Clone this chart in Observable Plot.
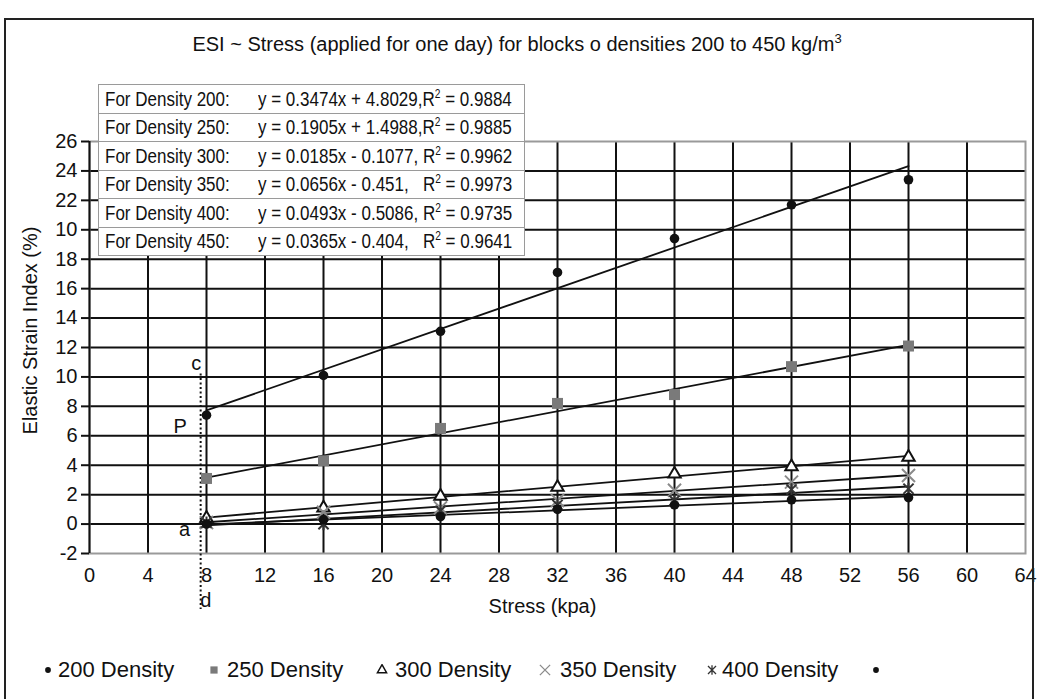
<!DOCTYPE html>
<html><head><meta charset="utf-8">
<script src="https://cdn.jsdelivr.net/npm/d3@7"></script>
<script src="https://cdn.jsdelivr.net/npm/@observablehq/plot@0.6"></script>
<style>
body{margin:0;background:#fff;font-family:"Liberation Sans",Arial,sans-serif;}
#wrap{position:relative;width:1041px;height:699px;overflow:hidden;background:#fff;}
#frame{position:absolute;left:4px;top:18px;width:1030px;height:720px;border:2px solid #222;box-sizing:border-box;pointer-events:none;}
#plot{position:absolute;left:0;top:0;}
#title{position:absolute;top:31px;left:517px;transform:translateX(-50%);font-size:20px;white-space:nowrap;color:#111;}
#title sup{font-size:13px;}
#eqbox{position:absolute;left:98px;top:84px;width:426px;table-layout:fixed;background:#fff;border-collapse:collapse;font-family:"Liberation Sans",Arial,sans-serif;font-size:20px;color:#111;}
#eqbox tr{height:28.5px;}
#eqbox td{border:1.5px solid #9a9a9a;height:27px;padding:0;white-space:pre;overflow:hidden;line-height:20px;vertical-align:middle;}
#eqbox td.l{padding-left:6px;width:153px;border-right:none;}
#eqbox td.r{padding-left:0;width:267px;border-left:none;}
#eqbox span{display:inline-block;transform:scaleX(0.85);transform-origin:0 50%;line-height:20px;}
#eqbox sup{font-size:12px;line-height:0;}
#legend{position:absolute;top:656px;left:0;font-size:22px;color:#111;}
.item{position:absolute;white-space:nowrap;height:28px;line-height:28px;}
.item svg{position:absolute;top:8px;}
</style></head>
<body><div id="wrap"><div id="plot"></div><div id="title"></div><table id="eqbox"><colgroup><col style="width:159px"><col style="width:267px"></colgroup><tbody id="eqbody"></tbody></table><div id="legend"></div><div id="frame"></div></div>
<script>
// ---- data ----
const stress = [8, 16, 24, 32, 40, 48, 56];
const esi200 = [7.4, 10.1, 13.1, 17.1, 19.4, 21.7, 23.4];
const esi250 = [3.1, 4.3, 6.5, 8.2, 8.8, 10.7, 12.1];
const esi300 = [0.4, 1.1, 1.9, 2.5, 3.4, 3.9, 4.55];
const esi350 = [0.1, 0.8, 1.1, 1.6, 2.3, 2.85, 3.3];
const esi400 = [0.1, 0.0, 0.9, 1.3, 1.6, 2.35, 2.4];
const esi450 = [0.0, 0.3, 0.5, 1.0, 1.3, 1.65, 1.8];
const seriesNames = ["200 Density", "250 Density", "300 Density", "350 Density", "400 Density", ""];
const seriesValues = [esi200, esi250, esi300, esi350, esi400, esi450];
const xTicks = [0, 4, 8, 12, 16, 20, 24, 28, 32, 36, 40, 44, 48, 52, 56, 60, 64];
const yTicks = [-2, 0, 2, 4, 6, 8, 10, 12, 14, 16, 18, 20, 22, 24, 26];
const yTickLabels = ["-2", "0", "2", "4", "6", "8", "10", "12", "14", "16", "18", "10", "22", "24", "26"];
const titleText = "ESI ~ Stress (applied for one day) for blocks o densities 200 to 450 kg/m";
const titleSup = "3";
const xTitle = "Stress (kpa)";
const yTitle = "Elastic Strain Index (%)";
const eqLabels = ["For Density 200:", "For Density 250:", "For Density 300:", "For Density 350:", "For Density 400:", "For Density 450:"];
const eqTexts = [
  "y = 0.3474x + 4.8029,R² = 0.9884",
  "y = 0.1905x + 1.4988,R² = 0.9885",
  "y = 0.0185x - 0.1077, R² = 0.9962",
  "y = 0.0656x - 0.451,   R² = 0.9973",
  "y = 0.0493x - 0.5086, R² = 0.9735",
  "y = 0.0365x - 0.404,   R² = 0.9641"
];
const annLabels = ["c", "P", "a", "d"];
const annX = [7.3, 6.2, 6.5, 7.95];
const annY = [10.9, 6.6, -0.35, -5.2];
const guideX = [7.6];
const guideY1 = [10.2];
const guideY2 = [-5.8];

// custom marker: × with a vertical bar
const starX = {
  draw(c, size) {
    const r = Math.sqrt(size / Math.PI) * 0.85;
    c.moveTo(-r, -r); c.lineTo(r, r);
    c.moveTo(r, -r); c.lineTo(-r, r);
    c.moveTo(0, -r * 1.2); c.lineTo(0, r * 1.2);
  }
};

// ---- styles per series ----
const styles = [
  {symbol: "circle", fill: "#111", stroke: "none", r: 4.8},
  {symbol: "square", fill: "#7a7a7a", stroke: "none", r: 6.2},
  {symbol: "triangle", fill: "#fff", stroke: "#111", r: 4.6, sw: 2},
  {symbol: "times", fill: "none", stroke: "#8a8a8a", r: 6, sw: 2},
  {symbol: starX, fill: "none", stroke: "#333", r: 6, sw: 2},
  {symbol: "circle", fill: "#111", stroke: "none", r: 4.8}
];
// legend layout (marker centre x, text start x)
const legendMarkerX = [48, 214, 382, 545, 712, 876];
const legendTextX = [58, 227, 395, 560, 722, 0];

const rows = seriesValues.flatMap((vals, i) => vals.map((v, j) => ({series: i, x: stress[j], y: v})));

const marks = [
  Plot.ruleY(yTicks.filter(d => d > -2 && d < 26), {stroke: "#111", strokeWidth: 2}),
  Plot.ruleX(xTicks.filter(d => d > 0 && d < 64), {y1: -2, y2: 26, stroke: "#111", strokeWidth: 2}),
  Plot.frame({stroke: "#9a9a9a", strokeWidth: 2}),
  Plot.ruleX([0], {y1: -2, y2: 26, stroke: "#111", strokeWidth: 2}),
  Plot.axisY({ticks: yTicks, tickSize: 8, tickPadding: 4, tickFormat: (d) => yTickLabels[yTicks.indexOf(d)], fontSize: 20, label: null, stroke: "#111", strokeWidth: 2}),
  Plot.axisX({ticks: xTicks, tickSize: 0, tickPadding: 14, fontSize: 20, label: null}),
  Plot.text([xTitle], {frameAnchor: "bottom", dy: 59, dx: -15, fontSize: 20, fill: "#111"}),
  Plot.text([yTitle], {frameAnchor: "left", textAnchor: "middle", dx: -59, dy: -17, rotate: -90, fontSize: 20, fill: "#111"}),
  Plot.ruleX(guideX, {x: d => d, y1: (d, i) => guideY1[i], y2: (d, i) => guideY2[i], stroke: "#111", strokeWidth: 2, strokeDasharray: "2,2.5"}),
  Plot.text(annLabels, {x: (d, i) => annX[i], y: (d, i) => annY[i], text: d => d, fontSize: 20, fill: "#111"}),
  ...seriesValues.map((vals, i) => Plot.linearRegressionY(rows.filter(r => r.series === i), {x: "x", y: "y", ci: 0, stroke: "#111", strokeWidth: 1.8})),
  ...styles.map((s, i) => Plot.dot(rows.filter(r => r.series === i), {x: "x", y: "y", symbol: s.symbol, fill: s.fill, stroke: s.stroke, r: s.r, strokeWidth: s.sw || 1}))
];

const chart = Plot.plot({
  width: 1041, height: 699,
  marginLeft: 89, marginRight: 16, marginTop: 141, marginBottom: 146,
  x: {domain: [0, 64], axis: null},
  y: {domain: [-2, 26], axis: null},
  style: {fontFamily: "'Liberation Sans', Arial, sans-serif", color: "#111", background: "transparent"},
  marks
});
document.getElementById("plot").appendChild(chart);

// title
const t = document.getElementById("title");
t.textContent = titleText;
const sup = document.createElement("sup"); sup.textContent = titleSup; t.appendChild(sup);

// equation box
const tb = document.getElementById("eqbody");
eqLabels.forEach((lab, i) => {
  const tr = document.createElement("tr");
  const a = document.createElement("td"); a.className = "l";
  const sa = document.createElement("span"); sa.textContent = lab; a.appendChild(sa);
  const b = document.createElement("td"); b.className = "r";
  const sb = document.createElement("span");
  const parts = eqTexts[i].split("R²");
  sb.append(parts[0], "R");
  const s = document.createElement("sup"); s.textContent = "2"; sb.append(s, parts[1]);
  b.appendChild(sb);
  tr.append(a, b); tb.appendChild(tr);
});

// legend
const lg = document.getElementById("legend");
const typeMap = {circle: d3.symbolCircle, square: d3.symbolSquare, triangle: d3.symbolTriangle, times: d3.symbolTimes};
styles.forEach((s, i) => {
  const m = document.createElement("div"); m.className = "item"; m.style.left = (legendMarkerX[i] - 6) + "px";
  const svg = d3.create("svg").attr("width", 12).attr("height", 12);
  const symType = typeof s.symbol === "string" ? typeMap[s.symbol] : s.symbol;
  const size = typeof s.symbol === "string" ? {circle: 26, square: 52, triangle: 36, times: 70}[s.symbol] : 70;
  svg.append("path").attr("transform", "translate(6,6)").attr("d", d3.symbol(symType, size)())
    .attr("fill", s.fill).attr("stroke", s.stroke).attr("stroke-width", s.symbol === "triangle" ? 1.5 : 1.3);
  m.appendChild(svg.node());
  lg.appendChild(m);
  if (seriesNames[i]) {
    const tx = document.createElement("div"); tx.className = "item"; tx.style.left = legendTextX[i] + "px";
    tx.textContent = seriesNames[i];
    lg.appendChild(tx);
  }
});
</script></body></html>
